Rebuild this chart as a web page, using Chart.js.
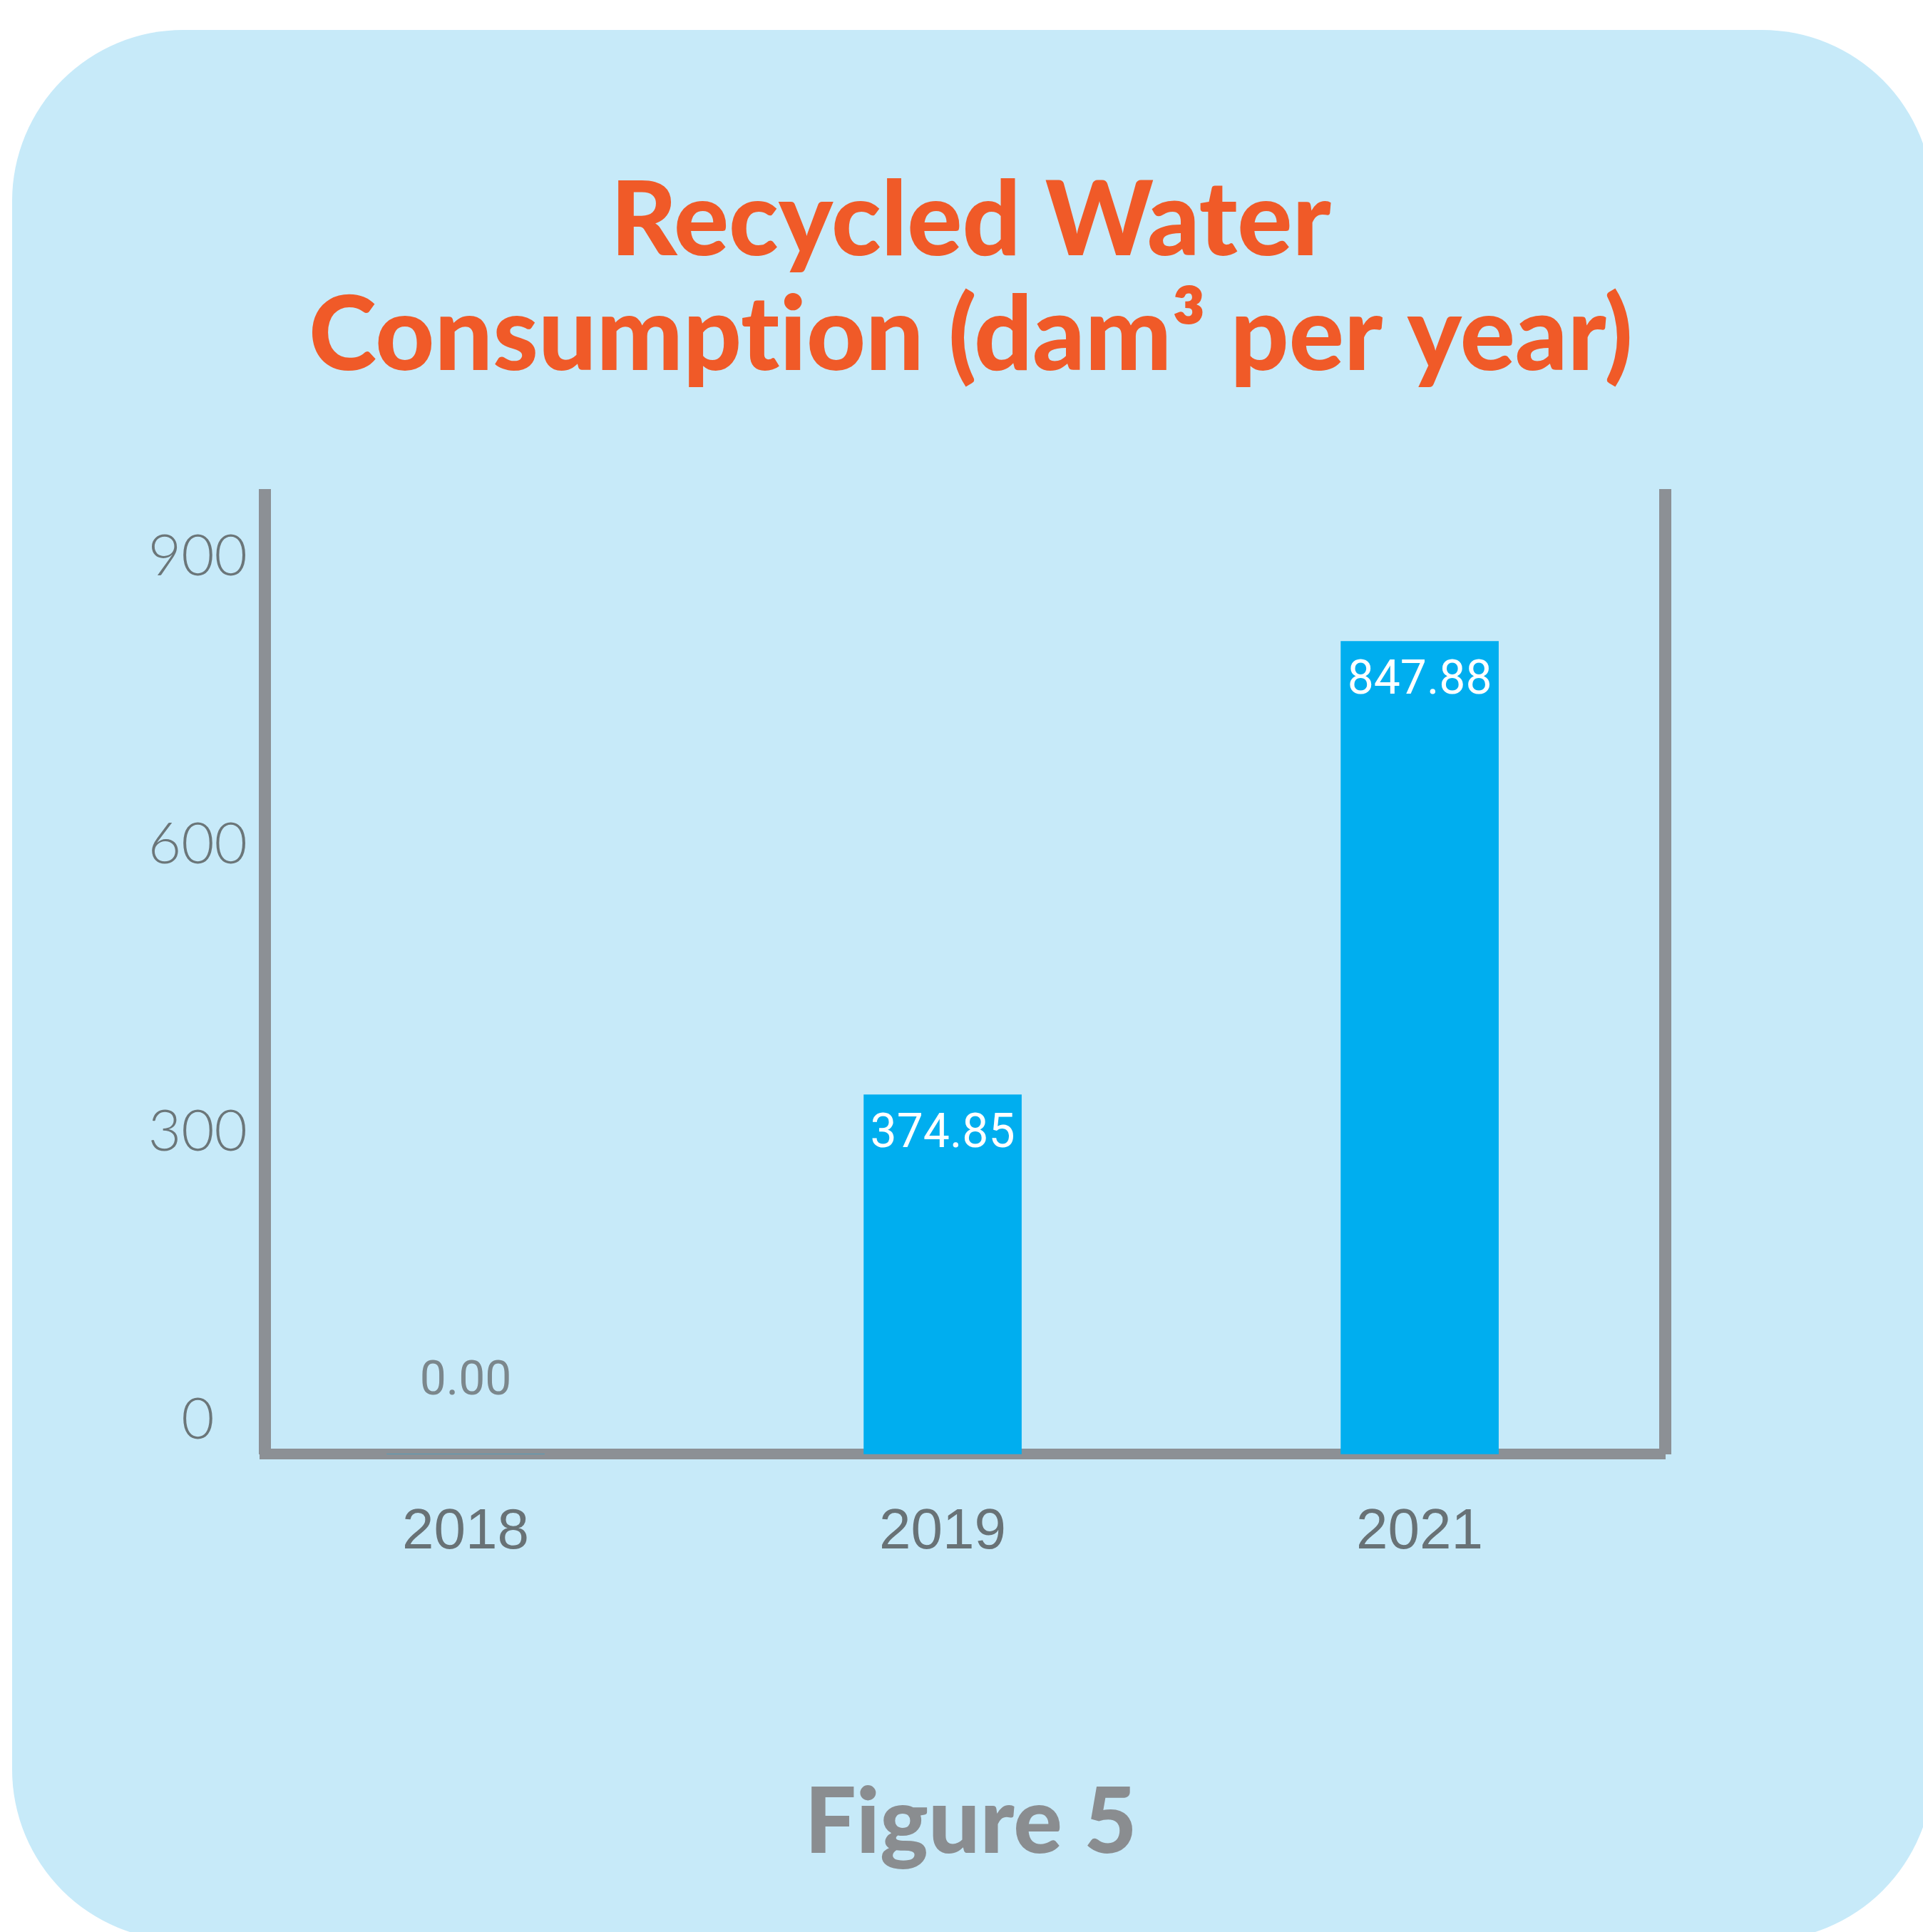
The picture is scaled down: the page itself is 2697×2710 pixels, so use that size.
<!DOCTYPE html>
<html>
<head>
<meta charset="utf-8">
<script src="https://cdn.jsdelivr.net/npm/chart.js@4.4.1/dist/chart.umd.min.js"></script>
<style>
  html, body { margin: 0; padding: 0; background: #fff; }
</style>
</head>
<body>
<canvas id="waterChart" width="2697" height="2710"></canvas>
<script>
// Recycled water consumption, dam3 per year
const years = ['2018', '2019', '2021'];
const recycledWater = [0.00, 374.85, 847.88];
const yTickValues = [0, 300, 600, 900];
// zero-width non-joiner keeps Lato from fusing "ti"
const titleLines = ['Recycled Water', 'Consumpt\u200Cion (dam³ per year)'];
const figureLabel = 'Figure 5';

const axisGrey = '#8c9095';

// light blue rounded panel behind everything
const panelBackground = {
  id: 'panelBackground',
  beforeDraw(chart) {
    const c = chart.ctx;
    c.save();
    c.fillStyle = '#ffffff';
    c.fillRect(0, 0, chart.width, chart.height);
    c.fillStyle = '#c7eaf9';
    c.beginPath();
    c.roundRect(17, 42, 2694, 2680, 240);
    c.fill();
    c.restore();
  }
};

// value labels: white inside the bar top, grey above the base for zero
const valueLabels = {
  id: 'valueLabels',
  afterDatasetsDraw(chart) {
    const c = chart.ctx;
    const meta = chart.getDatasetMeta(0);
    c.save();
    c.font = '66px Roboto';
    c.textAlign = 'center';
    c.textBaseline = 'middle';
    meta.data.forEach((bar, i) => {
      const v = recycledWater[i];
      const txt = v.toFixed(2);
      if (v > 0) {
        c.fillStyle = '#ffffff';
        c.fillText(txt, bar.x, bar.y + 57);
      } else {
        c.fillStyle = '#7b878c';
        c.fillText(txt, bar.x, bar.base - 100);
      }
    });
    c.restore();
  }
};

// bars sit at index positions on a linear x axis, labelled with the years
const points = recycledWater.map((v, i) => ({ x: i, y: v }));

new Chart(document.getElementById('waterChart'), {
  type: 'bar',
  data: {
    datasets: [{
      label: 'Recycled Water Consumption',
      data: points,
      backgroundColor: '#00aeef',
      borderWidth: 0,
      barThickness: 221
    }]
  },
  options: {
    responsive: false,
    animation: false,
    layout: { padding: { left: 26, right: 0, top: 0, bottom: 83 } },
    plugins: {
      legend: { display: false },
      tooltip: { enabled: false },
      title: {
        display: true,
        text: titleLines,
        color: '#f05a28',
        font: { family: 'Lato', size: 144, weight: '900', lineHeight: 1.118 },
        padding: { top: 231, bottom: 142 }
      },
      subtitle: {
        display: true,
        position: 'bottom',
        text: figureLabel,
        color: '#8a8d90',
        font: { family: 'Lato', size: 128, weight: '900', lineHeight: 1.08 },
        padding: { top: 0, bottom: 0 }
      }
    },
    scales: {
      x: {
        type: 'linear',
        offset: false,
        z: 1,
        min: -0.4215,
        max: 2.514,
        afterBuildTicks: (s) => { s.ticks = years.map((y, i) => ({ value: i })); },
        grid: { display: false, drawTicks: false, offset: false },
        border: { display: true, color: axisGrey, width: 15 },
        ticks: {
          color: '#687276',
          font: { family: 'Liberation Sans', size: 80 },
          padding: 62,
          callback: (v) => years[v]
        },
        afterFit: (s) => { s.height = 449; }
      },
      y: {
        min: 0,
        max: 1000,
        afterBuildTicks: (s) => { s.ticks = yTickValues.map(v => ({ value: v })); },
        grid: { display: false, drawTicks: false },
        border: { display: true, color: axisGrey, width: 17 },
        ticks: {
          color: '#6b7679',
          font: { family: 'Lato', size: 80, weight: '300' },
          crossAlign: 'center',
          padding: 24,
          labelOffset: -48
        },
        afterFit: (s) => { s.width = 345; }
      },
      yRight: {
        position: 'right',
        min: 0,
        max: 1000,
        grid: { display: false, drawTicks: false },
        border: { display: true, color: axisGrey, width: 17 },
        ticks: { display: false },
        afterFit: (s) => { s.width = 362; }
      }
    }
  },
  plugins: [panelBackground, valueLabels]
});
</script>
</body>
</html>
